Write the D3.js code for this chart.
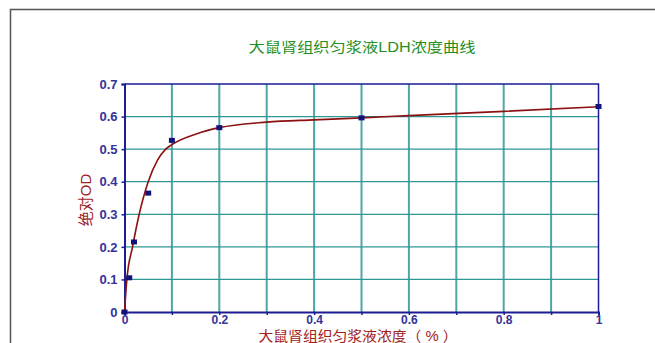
<!DOCTYPE html>
<html>
<head>
<meta charset="utf-8">
<script src="https://cdn.jsdelivr.net/npm/d3@7"></script>
<style>
  body { margin: 0; background: #fff; }
  svg { display: block; }
</style>
</head>
<body>
<div id="chart"></div>
<script>
// measured points
var concX = [0, 0.01, 0.02, 0.05, 0.1, 0.2, 0.5, 1];
var odY = [0, 0.105, 0.215, 0.365, 0.527, 0.566, 0.596, 0.631];

// fitted curve
var fitX = [0, 0.005, 0.017, 0.031, 0.05, 0.07, 0.087, 0.1, 0.15, 0.2, 0.3, 0.4, 0.5, 0.6, 0.8, 1];
var fitY = [0, 0.1, 0.2, 0.3, 0.4, 0.467, 0.5, 0.514, 0.546, 0.566, 0.583, 0.590, 0.596, 0.603, 0.616, 0.630];

var xTicks = [0, 0.2, 0.4, 0.6, 0.8, 1];
var xGrid = [0.1, 0.2, 0.3, 0.4, 0.5, 0.6, 0.7, 0.8, 0.9];
var yTicks = [0, 0.1, 0.2, 0.3, 0.4, 0.5, 0.6, 0.7];

var titleText = "大鼠肾组织匀浆液LDH浓度曲线";
var xTitle = "大鼠肾组织匀浆液浓度（ % ）";
var yTitle = "绝对OD";

var W = 655, H = 343;
var margin = { top: 84, right: 56.5, bottom: 31, left: 124.5 };
var width = W - margin.left - margin.right,
  height = H - margin.top - margin.bottom;

var cjk = "'Liberation Sans', Arial, 'Noto Sans CJK SC', sans-serif";
var navy = "#1c1c96";
var teal = "#2f9894";

var svg = d3.select("#chart").append("svg")
  .attr("width", W)
  .attr("height", H);

// outer frame
svg.append("path")
  .attr("d", "M10.5," + H + "V9.5H" + W)
  .attr("fill", "none")
  .attr("stroke", "#555")
  .attr("stroke-width", 1.5);

svg.append("text")
  .attr("x", 362)
  .attr("y", 52)
  .attr("text-anchor", "middle")
  .attr("font-family", cjk)
  .attr("font-size", 14)
  .attr("textLength", 227)
  .attr("lengthAdjust", "spacingAndGlyphs")
  .attr("fill", "#1f8f1f")
  .text(titleText);

var g = svg.append("g")
  .attr("transform", "translate(" + margin.left + "," + margin.top + ")");

var x = d3.scaleLinear().domain([0, 1]).range([0, width]);
var y = d3.scaleLinear().domain([0, 0.7]).range([height, 0]);

// grid
g.selectAll(".vgrid").data(xGrid).enter().append("line")
  .attr("x1", d => x(d)).attr("x2", d => x(d))
  .attr("y1", 0).attr("y2", height)
  .attr("stroke", teal).attr("stroke-opacity", 0.85)
  .attr("stroke-width", 2);

g.selectAll(".hgrid").data(yTicks.filter(d => d > 0 && d < 0.7)).enter().append("line")
  .attr("x1", 0).attr("x2", width)
  .attr("y1", d => y(d)).attr("y2", d => y(d))
  .attr("stroke", teal)
  .attr("stroke-width", 1.3);

// axes
var xAxis = g.append("g")
  .attr("transform", "translate(0," + height + ")")
  .call(d3.axisBottom(x).tickValues(xTicks).tickSize(3).tickFormat(d3.format("")));

g.append("g")
  .attr("transform", "translate(0," + height + ")")
  .call(d3.axisBottom(x).tickValues(xGrid.filter(d => xTicks.indexOf(d) < 0)).tickSize(3).tickFormat(""))
  .call(a => a.select(".domain").remove());

var yAxis = g.append("g")
  .call(d3.axisLeft(y).tickValues(yTicks).tickSize(3).tickFormat(d3.format("")));

svg.selectAll(".domain").attr("stroke", navy).attr("stroke-width", 2);
svg.selectAll(".tick line").attr("stroke", navy).attr("stroke-width", 1.5);
svg.selectAll(".tick text")
  .attr("fill", "#33339a")
  .attr("font-family", "'Liberation Sans', Arial, sans-serif")
  .attr("font-weight", "bold")
  .attr("font-size", 13);
xAxis.selectAll(".tick text").attr("font-size", 12).attr("dy", "0.71em").attr("y", 3);
yAxis.selectAll(".tick text").attr("x", -7);

// top and right border
g.append("path")
  .attr("d", "M0,0H" + width + "V" + height)
  .attr("fill", "none")
  .attr("stroke", navy)
  .attr("stroke-width", 1.5);

// fitted curve
var fit = fitX.map((d, i) => [d, fitY[i]]);
g.append("path")
  .datum(fit)
  .attr("fill", "none")
  .attr("stroke", "#8c1111")
  .attr("stroke-width", 1.6)
  .attr("d", d3.line()
    .x(d => x(d[0]))
    .y(d => y(d[1]))
    .curve(d3.curveMonotoneX));

// measured markers
var pts = concX.map((d, i) => [d, odY[i]]);
g.selectAll(".pt").data(pts).enter().append("rect")
  .attr("x", d => x(d[0]) - 3)
  .attr("y", d => y(d[1]) - 2.5)
  .attr("width", 6)
  .attr("height", 5)
  .attr("fill", "#12127a");

// axis titles
svg.append("text")
  .attr("x", 358)
  .attr("y", 341)
  .attr("text-anchor", "middle")
  .attr("font-family", cjk)
  .attr("font-size", 14)
  .attr("textLength", 199)
  .attr("lengthAdjust", "spacingAndGlyphs")
  .attr("fill", "#a02222")
  .text(xTitle);

svg.append("text")
  .attr("transform", "translate(91,200) rotate(-90)")
  .attr("text-anchor", "middle")
  .attr("font-family", cjk)
  .attr("font-size", 15)
  .attr("fill", "#a02222")
  .text(yTitle);
</script>
</body>
</html>
